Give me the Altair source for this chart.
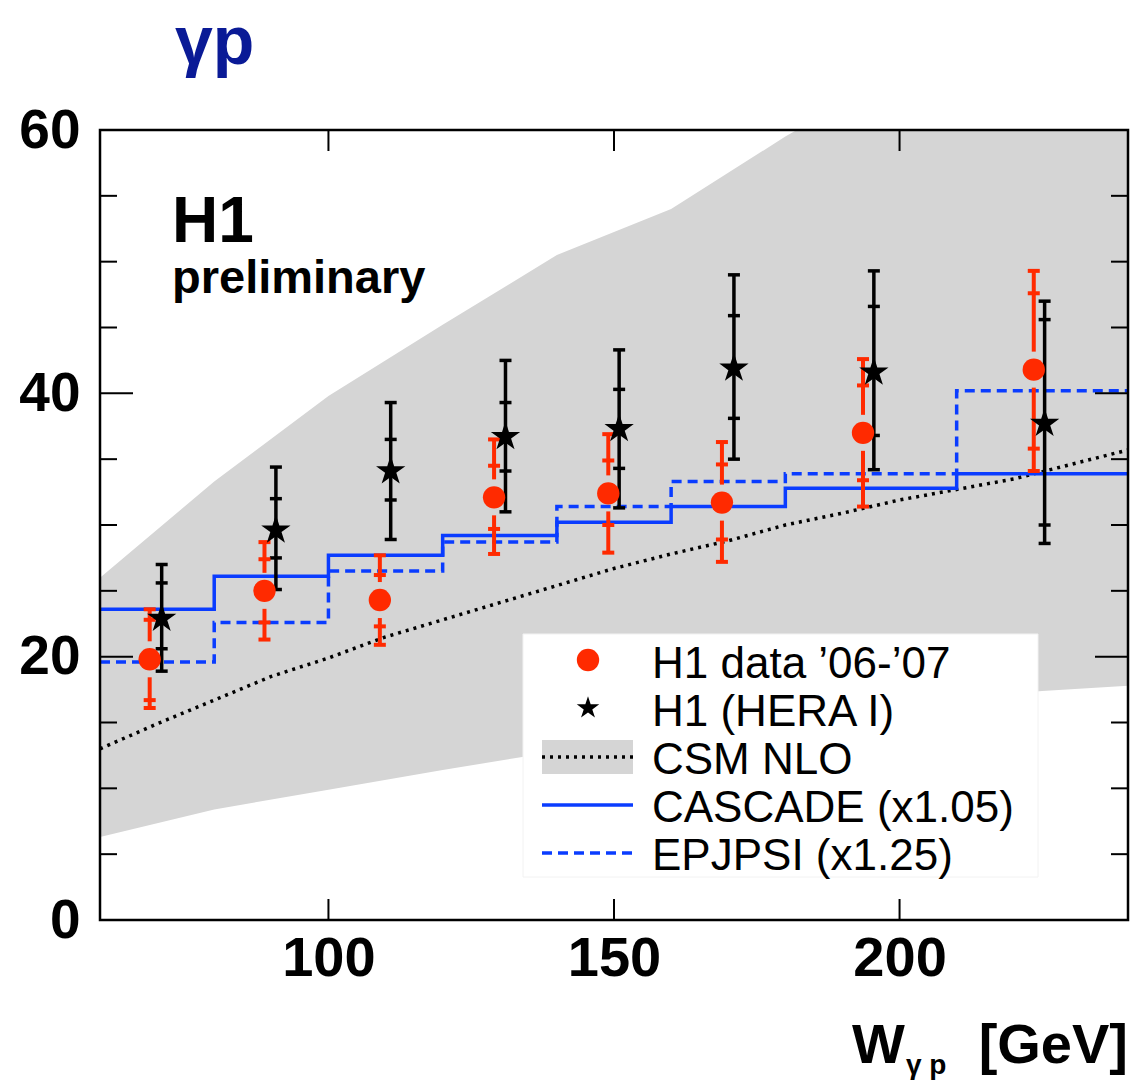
import altair as alt
import pandas as pd

# ---------------- data ----------------
bin_edges = [60, 80, 100, 120, 140, 160, 180, 210, 240]
cascade_vals = [23.6, 26.1, 27.7, 29.2, 30.2, 31.4, 32.8, 33.9]
epjpsi_vals = [19.6, 22.6, 26.5, 28.7, 31.4, 33.3, 33.9, 40.2]

csm_x = [60, 70, 80, 90, 100, 110, 120, 130, 140, 150, 160, 170, 180, 190, 200, 210, 220, 230, 240]
csm_y = [13.0, 14.9, 16.7, 18.5, 19.9, 21.5, 22.8, 24.1, 25.4, 26.7, 27.8, 28.8, 30.0, 30.9, 31.9, 32.7, 33.5, 34.6, 35.7]

band_x = [60, 80, 100, 120, 140, 160, 180, 200, 210, 225, 240]
band_hi = [26.0, 33.3, 39.8, 45.2, 50.5, 54.0, 59.5, 64.5, 67.0, 70.0, 73.0]
band_lo = [6.3, 8.4, 9.9, 11.4, 12.8, 14.2, 15.4, 16.4, 16.9, 17.4, 17.8]

# H1 data '06-'07
new_x = [68.7, 88.8, 109.0, 129.0, 149.0, 168.9, 193.6, 223.5]
new_y = [19.8, 25.0, 24.3, 32.1, 32.4, 31.7, 37.0, 41.8]
new_stat_hi = [22.8, 27.4, 26.2, 34.5, 34.9, 34.6, 40.6, 47.6]
new_stat_lo = [16.7, 22.6, 22.3, 29.7, 30.0, 28.9, 33.4, 35.8]
new_tot_hi = [23.6, 28.7, 27.7, 36.5, 36.9, 36.3, 42.6, 49.3]
new_tot_lo = [16.1, 21.3, 20.9, 27.8, 27.9, 27.2, 31.4, 34.1]

# H1 (HERA I)
old_x = [70.8, 90.8, 110.9, 131.0, 150.9, 171.0, 195.5, 225.4]
old_y = [22.9, 29.6, 34.1, 36.7, 37.3, 41.9, 41.6, 37.7]
old_stat_hi = [25.6, 32.0, 36.5, 39.3, 40.3, 45.9, 46.6, 45.6]
old_stat_lo = [20.6, 27.5, 31.9, 34.1, 34.3, 38.1, 36.8, 30.0]
old_tot_hi = [27.0, 34.4, 39.3, 42.5, 43.3, 49.0, 49.3, 47.0]
old_tot_lo = [18.9, 25.1, 28.9, 31.0, 31.3, 35.0, 34.2, 28.6]

x_tick_values = [100, 150, 200]
y_label_values = [0, 20, 40, 60]
y_major_ticks = [0, 20, 40, 60]
y_minor_ticks = [5, 10, 15, 25, 30, 35, 45, 50, 55]

legend_labels = ["H1 data \u201906-\u201907", "H1 (HERA I)", "CSM NLO", "CASCADE (x1.05)", "EPJPSI (x1.25)"]

# ---------------- style ----------------
W, H = 1028, 790
FONT = "Liberation Sans"
RED = "#FF2A00"
BLUE = "#0A3CFF"
GREY = "#D5D5D5"
STAR = ("M0,-1 L0.2245,-0.309 L0.951,-0.309 L0.363,0.118 L0.588,0.809 "
        "L0,0.382 L-0.588,0.809 L-0.363,0.118 L-0.951,-0.309 L-0.2245,-0.309 Z")

xs = alt.Scale(domain=[60, 240], nice=False, zero=False)
ys = alt.Scale(domain=[0, 60], nice=False, zero=False)

x_axis = alt.Axis(values=x_tick_values, title=None, ticks=False, domain=False, grid=False,
                  labelFont=FONT, labelFontSize=56, labelFontWeight="bold", labelColor="black",
                  labelPadding=11, labelFlush=False)
y_axis = alt.Axis(values=y_label_values, title=None, ticks=False, domain=False, grid=False,
                  labelFont=FONT, labelFontSize=55, labelFontWeight="bold", labelColor="black",
                  labelPadding=20, labelFlush=False)

def X(f):
    return alt.X(f, scale=xs, axis=x_axis, title=None)

def Y(f):
    return alt.Y(f, scale=ys, axis=y_axis, title=None)

one = pd.DataFrame({"a": [0]})

# band
band_df = pd.DataFrame({"x": band_x, "hi": band_hi, "lo": band_lo})
band = alt.Chart(band_df).mark_area(color=GREY, clip=True, opacity=1).encode(
    x=X("x:Q"), y=Y("hi:Q"), y2="lo:Q")

legend_box = alt.Chart(one).mark_rect(fill="white", stroke="#f2f2f2", strokeWidth=1).encode(
    x=alt.value(423), x2=alt.value(938), y=alt.value(504), y2=alt.value(747))

csm_df = pd.DataFrame({"x": csm_x, "y": csm_y})
csm = alt.Chart(csm_df).mark_line(color="black", strokeDash=[3, 5], strokeWidth=3.5,
                                  strokeCap="butt", clip=True).encode(x=X("x:Q"), y=Y("y:Q"))

casc_df = pd.DataFrame({"x": bin_edges, "y": cascade_vals + [cascade_vals[-1]]})
casc = alt.Chart(casc_df).mark_line(color=BLUE, strokeWidth=3.5, interpolate="step-after").encode(
    x=X("x:Q"), y=Y("y:Q"))

epj_df = pd.DataFrame({"x": bin_edges, "y": epjpsi_vals + [epjpsi_vals[-1]]})
epj = alt.Chart(epj_df).mark_line(color=BLUE, strokeWidth=3.5, strokeDash=[10, 6],
                                  interpolate="step-after").encode(x=X("x:Q"), y=Y("y:Q"))

new_df = pd.DataFrame({"x": new_x, "y": new_y, "sh": new_stat_hi, "sl": new_stat_lo,
                       "th": new_tot_hi, "tl": new_tot_lo})
old_df = pd.DataFrame({"x": old_x, "y": old_y, "sh": old_stat_hi, "sl": old_stat_lo,
                       "th": old_tot_hi, "tl": old_tot_lo})

# black (HERA I) error bars
old_bar = alt.Chart(old_df).mark_rule(color="black", strokeWidth=3.5).encode(
    x=X("x:Q"), y=Y("tl:Q"), y2="th:Q")
old_caps = alt.Chart(old_df).transform_fold(["th", "tl", "sh", "sl"]).mark_rule(
    color="black", strokeWidth=3.5, xOffset=-6, x2Offset=6).encode(
    x=X("x:Q"), x2="x:Q", y=Y("value:Q"))
old_pts = alt.Chart(old_df).mark_point(shape=STAR, filled=True, fill="black", size=950,
                                       opacity=1).encode(x=X("x:Q"), y=Y("y:Q"))

# red (new) error bars with a gap around the marker
new_bar_up = alt.Chart(new_df).mark_rule(color=RED, strokeWidth=4, yOffset=-18).encode(
    x=X("x:Q"), y=Y("y:Q"), y2="th:Q")
new_bar_dn = alt.Chart(new_df).mark_rule(color=RED, strokeWidth=4, yOffset=18).encode(
    x=X("x:Q"), y=Y("y:Q"), y2="tl:Q")
new_caps = alt.Chart(new_df).transform_fold(["th", "tl", "sh", "sl"]).mark_rule(
    color=RED, strokeWidth=4, xOffset=-6, x2Offset=6).encode(
    x=X("x:Q"), x2="x:Q", y=Y("value:Q"))
new_pts = alt.Chart(new_df).mark_point(shape="circle", filled=True, color=RED, size=500,
                                       opacity=1).encode(x=X("x:Q"), y=Y("y:Q"))

# inward ticks
def yticks(vals, x0, x1):
    return alt.Chart(pd.DataFrame({"v": vals})).mark_rule(color="black", strokeWidth=2).encode(
        y=Y("v:Q"), x=alt.value(x0), x2=alt.value(x1))

def xticks(vals, y0, y1):
    return alt.Chart(pd.DataFrame({"v": vals})).mark_rule(color="black", strokeWidth=2).encode(
        x=X("v:Q"), y=alt.value(y0), y2=alt.value(y1))

ticks = [
    yticks(y_minor_ticks, 0, 17), yticks(y_major_ticks, 0, 33),
    yticks(y_minor_ticks, W - 17, W), yticks(y_major_ticks, W - 33, W),
    xticks(x_tick_values, 0, 21), xticks(x_tick_values, H - 21, H),
]

frame = alt.Chart(one).mark_rect(fill=None, stroke="black", strokeWidth=2.5).encode(
    x=alt.value(0), x2=alt.value(W), y=alt.value(0), y2=alt.value(H))

# legend
def rule_h(y, **kw):
    return alt.Chart(one).mark_rule(**kw).encode(x=alt.value(442), x2=alt.value(533), y=alt.value(y))

leg = [
    alt.Chart(one).mark_point(shape="circle", filled=True, color=RED, size=500, opacity=1).encode(
        x=alt.value(488), y=alt.value(530)),
    alt.Chart(one).mark_point(shape=STAR, filled=True, fill="black", size=560, opacity=1).encode(
        x=alt.value(488), y=alt.value(578)),
    alt.Chart(one).mark_rect(fill=GREY).encode(
        x=alt.value(442), x2=alt.value(533), y=alt.value(610), y2=alt.value(644)),
    rule_h(627, color="black", strokeWidth=3.5, strokeDash=[3, 5], strokeCap="butt"),
    rule_h(675, color=BLUE, strokeWidth=3.5),
    rule_h(723, color=BLUE, strokeWidth=3.5, strokeDash=[10, 6]),
]
for i, lab in enumerate(legend_labels):
    leg.append(alt.Chart(one).mark_text(text=lab, align="left", baseline="alphabetic", font=FONT,
                                        fontSize=44, color="black").encode(
        x=alt.value(552), y=alt.value(548 + 48 * i)))

def txt(s, x, y, size, weight="bold", color="black", align="left"):
    return alt.Chart(one).mark_text(text=s, align=align, baseline="alphabetic", font=FONT,
                                    fontSize=size, fontWeight=weight, color=color).encode(
        x=alt.value(x), y=alt.value(y))

texts = [
    txt("\u03b3p", 75, -66, 68, color="#0A1A96"),
    txt("H1", 72, 112, 64),
    txt("preliminary", 72, 163, 47),
    txt("W", 752, 933, 56),
    txt("\u03b3 p", 806, 944, 28),
    txt("[GeV]", 1028, 933, 56, align="right"),
]

chart = alt.layer(
    band, legend_box, csm, casc, epj,
    old_bar, old_caps, new_bar_up, new_bar_dn, new_caps, new_pts, old_pts,
    *leg, *ticks, frame, *texts
).properties(
    width=W, height=H,
    autosize=alt.AutoSizeParams(type="none"),
    padding={"left": 100, "top": 130, "right": 6, "bottom": 160},
    background="white",
).configure_view(stroke=None)

chart.save("out.html", embed_options={"renderer": "svg", "actions": False})
